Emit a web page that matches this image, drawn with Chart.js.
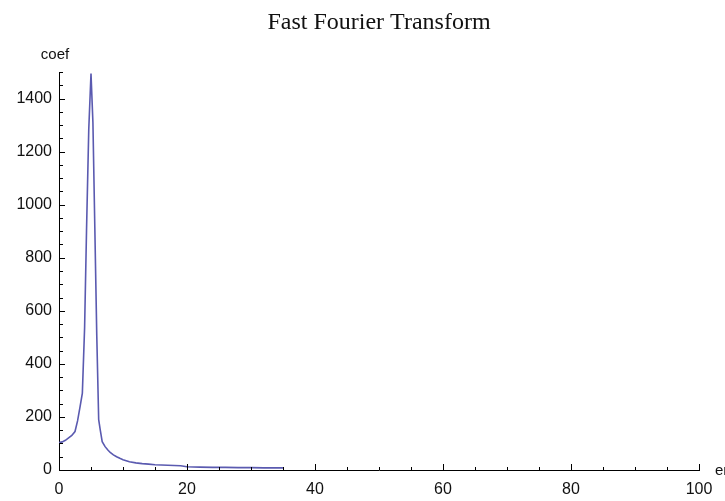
<!DOCTYPE html>
<html>
<head>
<meta charset="utf-8">
<script src="https://cdn.jsdelivr.net/npm/chart.js@4/dist/chart.umd.min.js"></script>
<style>
  html, body { margin: 0; padding: 0; background: #fff; }
  #wrap { width: 725px; height: 501px; }
</style>
</head>
<body>
<div id="wrap"><canvas id="fft" width="725" height="501"></canvas></div>
<script>
// values
const freq = [0, 0.5, 1, 1.5, 2, 2.5, 2.9, 3.3, 3.65, 4.0, 4.3, 4.65, 5.0, 5.3, 5.6, 5.9, 6.2, 6.45, 6.75,
              7.2, 7.6, 8, 8.5, 9, 9.5, 10, 10.5, 11, 12, 13, 14, 15, 16, 17, 18, 19, 20, 22, 24, 26, 28, 30, 32, 34, 35];
const coef = [103, 106, 112, 121, 130, 145, 185, 240, 290, 536, 902, 1283, 1494, 1310, 910, 509, 190, 150, 107,
              88, 76, 66, 57, 50, 44, 39, 35, 31, 27, 24, 22, 20, 19, 18, 17, 16, 12, 11, 10, 10, 9, 9, 8, 8, 8];
const xTicks = [0, 20, 40, 60, 80, 100];
const yTicks = [0, 200, 400, 600, 800, 1000, 1200, 1400];

const FONT = "'Liberation Sans', Arial, sans-serif";

const axisDecor = {
  id: "axisDecor",
  afterDraw(chart) {
    const { ctx, chartArea: a, scales: { x, y } } = chart;
    ctx.save();
    ctx.strokeStyle = "#000";
    ctx.lineWidth = 1;
    ctx.beginPath();
    // inward tick marks, major + minor
    for (let v = 0; v <= 1500; v += 50) {
      const py = Math.round(y.getPixelForValue(v)) + 0.5;
      const len = v % 200 === 0 ? 6 : 4;
      ctx.moveTo(a.left, py); ctx.lineTo(a.left + len, py);
    }
    for (let v = 0; v <= 100; v += 5) {
      const px = Math.round(x.getPixelForValue(v)) + 0.5;
      const len = v % 20 === 0 ? 6 : 3;
      ctx.moveTo(px, a.bottom); ctx.lineTo(px, a.bottom - len);
    }
    ctx.stroke();

    ctx.fillStyle = "#111";
    ctx.font = "24px 'Liberation Serif', 'Times New Roman', serif";
    ctx.textAlign = "center"; ctx.textBaseline = "middle";
    ctx.fillText("Fast Fourier Transform", (a.left + a.right) / 2, 23);

    ctx.font = "15px " + FONT;
    ctx.fillText("coef", 55, 55);
    ctx.textAlign = "left";
    ctx.fillText("energy", 715, 471);
    ctx.restore();
  }
};

new Chart(document.getElementById("fft"), {
  type: "line",
  data: {
    datasets: [{
      data: freq.map((f, i) => ({ x: f, y: coef[i] })),
      borderColor: "#5a5ab0",
      borderWidth: 1.6,
      pointRadius: 0,
      tension: 0,
      fill: false,
    }]
  },
  options: {
    responsive: false,
    animation: false,
    layout: { padding: { top: 72, right: 26, left: 0, bottom: 0 } },
    plugins: { legend: { display: false }, tooltip: { enabled: false }, title: { display: false } },
    scales: {
      x: {
        type: "linear", min: 0, max: 100,
        grid: { display: false, drawTicks: false },
        border: { display: true, color: "#000", width: 1 },
        afterBuildTicks: s => { s.ticks = xTicks.map(v => ({ value: v })); },
        afterFit: s => { s.height = 31; },
        ticks: { color: "#111", font: { family: FONT, size: 16 }, padding: 10, maxRotation: 0, callback: v => String(v) },
      },
      y: {
        min: 0, max: 1500,
        grid: { display: false, drawTicks: false },
        border: { display: true, color: "#000", width: 1 },
        afterBuildTicks: s => { s.ticks = yTicks.map(v => ({ value: v })); },
        afterFit: s => { s.width = 59; },
        ticks: { color: "#111", font: { family: FONT, size: 16 }, padding: 7, callback: v => String(v) },
      },
    },
  },
  plugins: [axisDecor],
});
</script>
</body>
</html>
